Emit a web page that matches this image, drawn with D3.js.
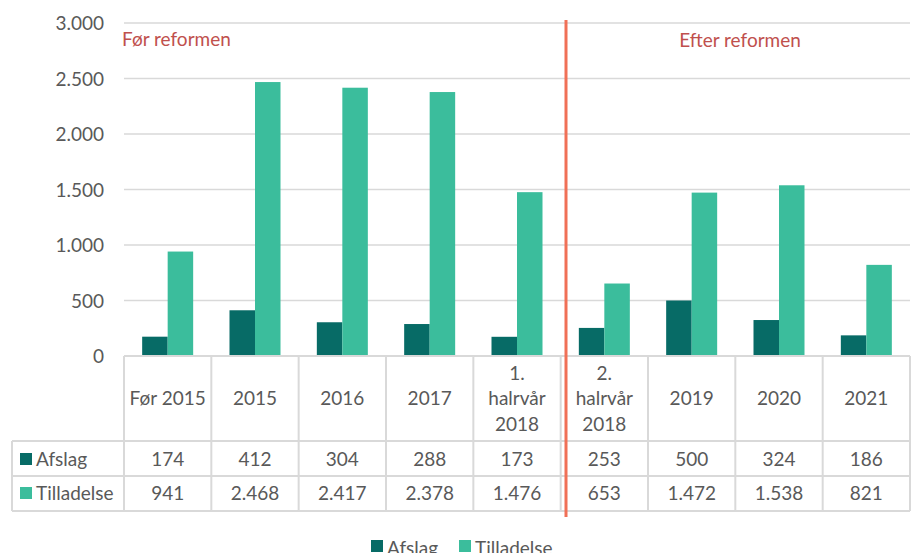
<html>
<head>
<script src="https://cdn.jsdelivr.net/npm/d3@7"></script>
<style>
body { margin: 0; background: #fff; }
text { font-family: Lato, "Open Sans", sans-serif; fill: #595959; }
</style>
</head>
<body>
<svg id="chart" width="911" height="553"></svg>
<script>
var categories = [["Før 2015"], ["2015"], ["2016"], ["2017"], ["1.", "halrvår", "2018"],
                  ["2.", "halrvår", "2018"], ["2019"], ["2020"], ["2021"]];
var afslag = [174, 412, 304, 288, 173, 253, 500, 324, 186];
var tilladelse = [941, 2468, 2417, 2378, 1476, 653, 1472, 1538, 821];
var yTicks = [0, 500, 1000, 1500, 2000, 2500, 3000];
var seriesNames = ["Afslag", "Tilladelse"];
var colors = ["#076b66", "#3bbd9c"];

var svg = d3.select("#chart");
var pLeft = 124, pRight = 910, pTop = 23, pBottom = 356;
var fs = "19px";
var fmt = function(v) { return d3.format(",")(v).replace(/,/g, "."); };

var x = d3.scaleBand().domain(d3.range(categories.length)).range([pLeft, pRight]);
var y = d3.scaleLinear().domain([0, 3000]).range([pBottom, pTop]);

// gridlines
svg.selectAll("line.grid")
    .data(yTicks.slice(1))
    .enter().append("line")
      .attr("x1", pLeft).attr("x2", pRight)
      .attr("y1", function(d) { return y(d); })
      .attr("y2", function(d) { return y(d); })
      .style("stroke", "#d9d9d9").style("stroke-width", 1.5);

// y labels
svg.selectAll("text.ytick")
    .data(yTicks)
    .enter().append("text")
      .attr("x", 104)
      .attr("y", function(d) { return y(d) + 7; })
      .attr("text-anchor", "end")
      .style("font-size", fs)
      .text(fmt);

// bars
var bw = 25.5;
var series = [afslag, tilladelse];
series.forEach(function(vals, s) {
  svg.selectAll("rect.s" + s)
      .data(vals)
      .enter().append("rect")
        .attr("x", function(d, i) { return x(i) + x.bandwidth() / 2 - bw + s * bw; })
        .attr("y", function(d) { return y(d); })
        .attr("width", bw)
        .attr("height", function(d) { return pBottom - y(d); })
        .style("fill", colors[s]);
});

// table
var tcol = "#d9d9d9";
svg.append("line").attr("x1", pLeft).attr("x2", pRight).attr("y1", pBottom).attr("y2", pBottom)
   .style("stroke", tcol).style("stroke-width", 2);
[441, 476, 511].forEach(function(yy) {
  svg.append("line").attr("x1", 12).attr("x2", pRight).attr("y1", yy).attr("y2", yy)
     .style("stroke", tcol).style("stroke-width", 2);
});
svg.append("line").attr("x1", 12).attr("x2", 12).attr("y1", 441).attr("y2", 511)
   .style("stroke", tcol).style("stroke-width", 2);
d3.range(categories.length + 1).forEach(function(i) {
  var xx = i < categories.length ? x(i) : pRight;
  svg.append("line").attr("x1", xx).attr("x2", xx).attr("y1", pBottom).attr("y2", 511)
     .style("stroke", tcol).style("stroke-width", 2);
});

categories.forEach(function(lines, i) {
  var cx = x(i) + x.bandwidth() / 2;
  var start = 405 - (lines.length - 1) * 25.5 / 2;
  lines.forEach(function(l, j) {
    svg.append("text").attr("x", cx).attr("y", start + j * 25.5)
       .attr("text-anchor", "middle").style("font-size", fs).text(l);
  });
  svg.append("text").attr("x", cx).attr("y", 466)
     .attr("text-anchor", "middle").style("font-size", fs).text(fmt(afslag[i]));
  svg.append("text").attr("x", cx).attr("y", 500)
     .attr("text-anchor", "middle").style("font-size", fs).text(fmt(tilladelse[i]));
});

seriesNames.forEach(function(n, s) {
  var yy = s === 0 ? 459 : 493;
  svg.append("rect").attr("x", 20).attr("y", yy - 6).attr("width", 12).attr("height", 12)
     .style("fill", colors[s]);
  svg.append("text").attr("x", 36).attr("y", yy + 7).style("font-size", fs).text(n);
});

// reform line
svg.append("line").attr("x1", 566).attr("x2", 566).attr("y1", 20).attr("y2", 517)
   .style("stroke", "#f07057").style("stroke-width", 3);
svg.append("text").attr("x", 122).attr("y", 46).style("font-size", fs)
   .style("fill", "#c0504d").text("Før reformen");
svg.append("text").attr("x", 740).attr("y", 47).attr("text-anchor", "middle")
   .style("font-size", fs).style("fill", "#c0504d").text("Efter reformen");

// legend
var lg = svg.append("g");
lg.append("rect").attr("x", 371).attr("y", 540).attr("width", 12).attr("height", 12).style("fill", colors[0]);
lg.append("text").attr("x", 387).attr("y", 555).style("font-size", fs).text(seriesNames[0]);
lg.append("rect").attr("x", 459).attr("y", 540).attr("width", 12).attr("height", 12).style("fill", colors[1]);
lg.append("text").attr("x", 475).attr("y", 555).style("font-size", fs).text(seriesNames[1]);
</script>
</body>
</html>
